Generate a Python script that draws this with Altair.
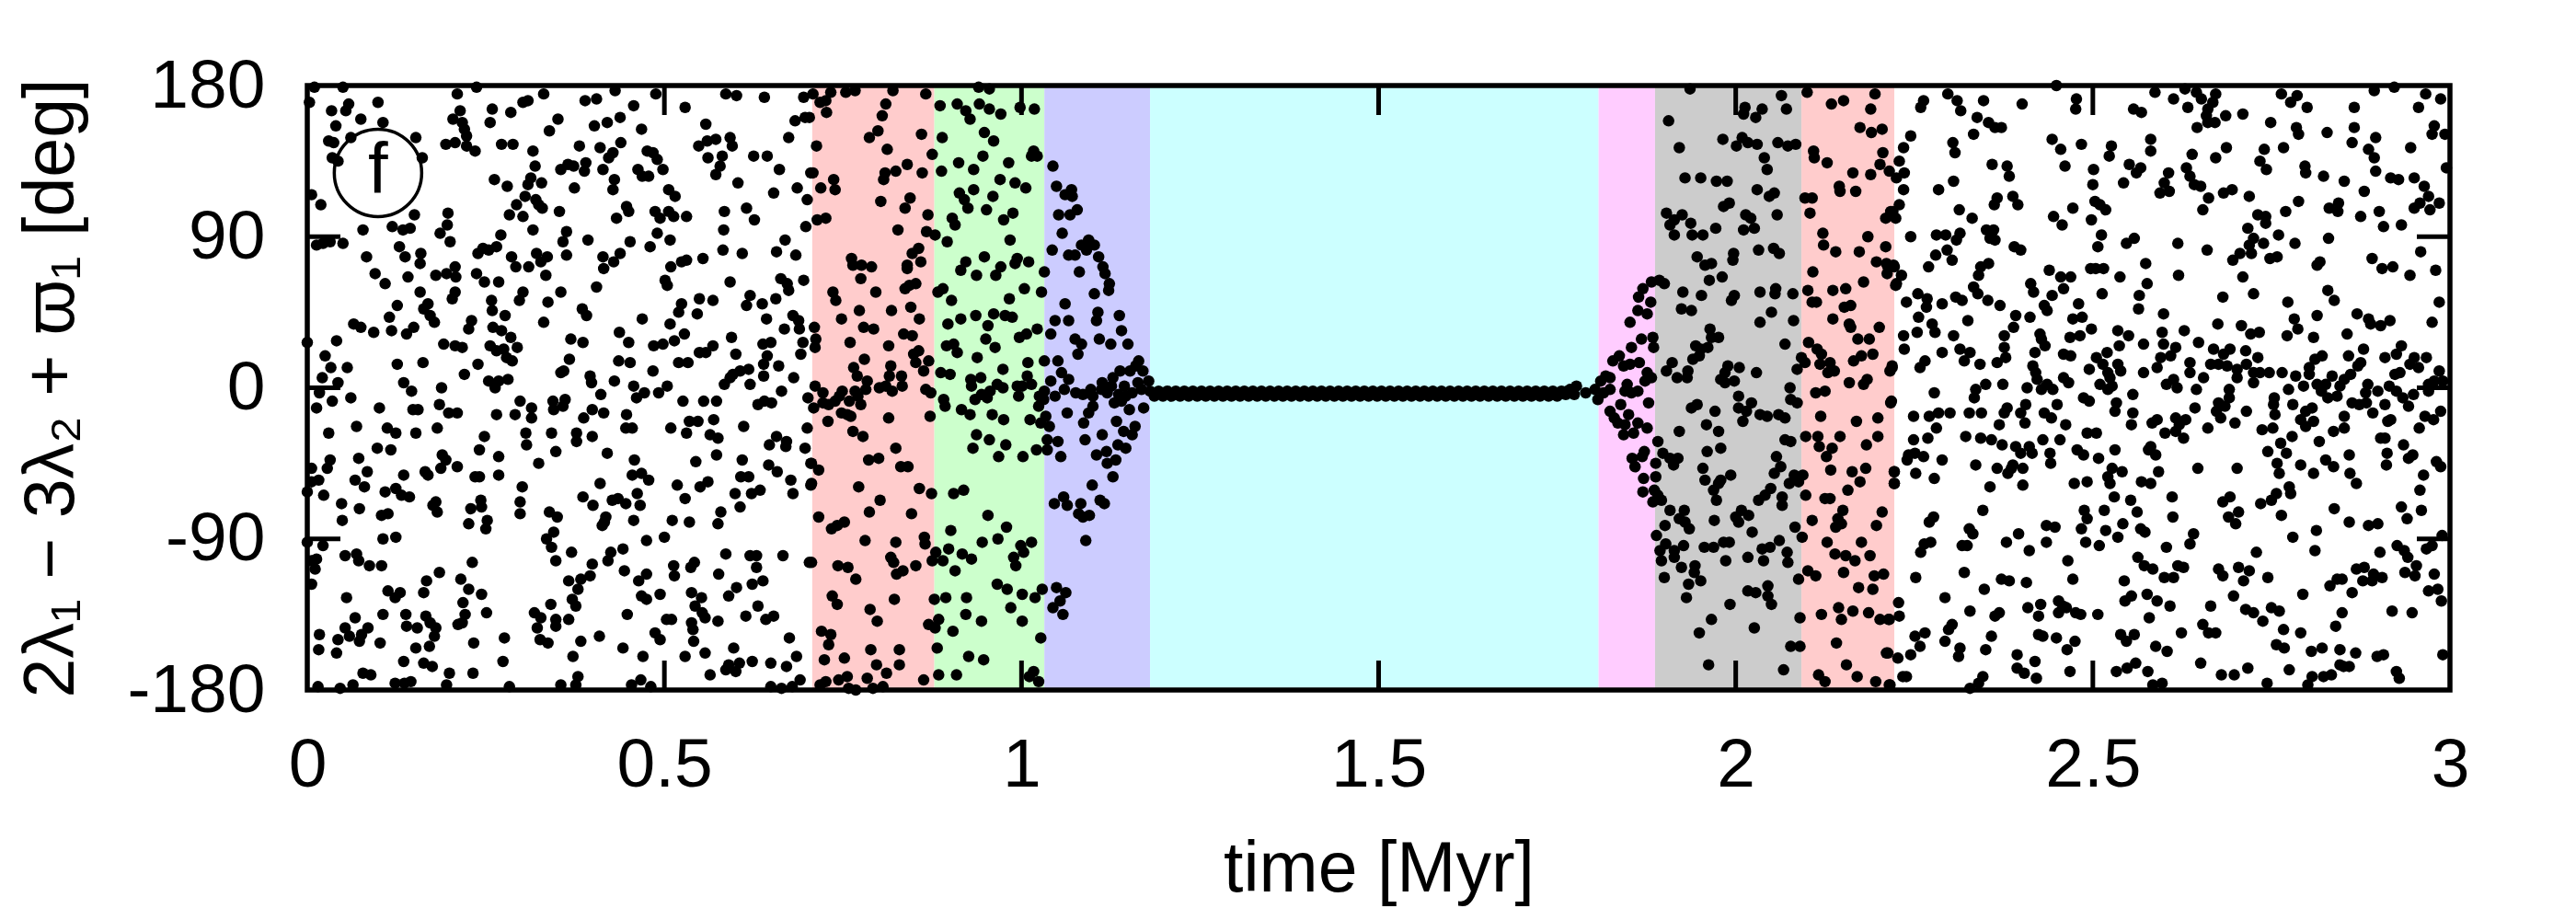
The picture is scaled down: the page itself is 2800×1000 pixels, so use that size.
import altair as alt
import pandas as pd

# (time in kyr, angle in deg), by shaded zone
Z_WHITE_A = [(10,179),(50,179),(210,175),(237,179),(331,175),(431,177),(488,175),(586,175),(601,174),(640,173),(695,173),(309,171),(302,170),(405,172),(389,171),(99,170),(457,168),(529,167),(3,170),
(58,169),(54,165),(34,165),(214,165),(259,166),(285,164),(75,160),(204,160),(256,158),(438,161),(420,158),(402,156),(351,160),(339,153),(468,154),(558,157),(683,159),(697,161),
(40,156),(106,158),(217,158),(220,154),(223,150),(61,149),(30,147),(37,146),(152,149),(674,149),(592,149),(572,148),(560,147),(548,144),(595,144),
(194,145),(207,146),(223,144),(235,141),(272,145),(288,145),(381,144),(410,143),(439,146),(476,141),(316,141),
(35,137),(43,135),(161,137),(428,140),(422,137),(484,140),(490,136),(561,137),(581,138),(578,132),(625,138),(644,138),
(319,132),(365,133),(355,130),(373,132),(390,134),(388,129),(414,130),(463,130),(498,130),(469,126),(478,126),(572,127),(661,130),(705,128),
(262,124),(280,120),(313,125),(309,121),(328,122),(374,119),(430,124),(428,118),(506,118),(603,122),(686,119),(653,116),
(6,115),(305,114),(515,114),(700,112),(19,109),(320,112),(324,109),(329,107),(293,109),(283,103),(302,102),(353,105),(447,108),(450,105),(433,101),(487,105),(494,101),(506,105),(513,102),(531,102),(584,105),(615,107),(626,100),(150,103),(197,104),(698,96),
(196,97),(78,94),(119,96),(134,94),(144,95),(186,92),(316,94),(271,91),(363,93),(583,94),(490,92),
(358,87),(393,88),(508,88),(452,87),(480,84),(669,88),(13,85),(22,86),(32,87),(50,86),(200,87),(129,84),(265,84),(246,83),(239,80),(254,82),(582,82),
(83,78),(137,78),(159,80),(158,74),(286,78),(321,80),(336,78),(327,75),(363,79),(414,78),(438,80),(554,77),(609,80),(657,81),(684,79),
(429,75),(415,71),(292,72),(310,72),(207,72),(95,68),(180,67),(195,68),(208,66),(237,68),(334,67),(509,72),(524,75),(531,76),(141,66),
(248,63),(268,63),(501,64),(504,61),(592,63),(663,65),(672,62),(695,64),(405,60),(109,62),(674,58),
(158,57),(207,57),(203,53),(302,57),(297,52),(355,57),(337,51),(258,52),(259,46),(620,55),(615,49),(568,52),(549,53),(637,50),(656,53),(524,50),(520,45),(546,44),(126,49),(169,50),(163,47),(385,47),(391,43),
(277,43),(115,42),(172,43),(178,39),(331,39),(469,41),(508,38),(643,41),(680,43),(688,40),(230,40),(226,35),
(65,38),(75,36),(93,33),(118,34),(139,32),(149,36),(260,36),(272,34),(285,30),(437,33),(450,27),(528,32),(514,28),(668,35),(689,35),
(0,27),(41,28),(191,26),(207,25),(217,24),(256,25),(265,22),(294,24),(369,29),(386,27),(498,26),(485,25),(594,30),(638,26),(649,27),(694,27),
(275,23),(279,18),(287,16),(549,21),(568,25),(558,21),(600,20),(644,19),(691,20),
(25,19),(367,17),(436,16),(452,15),(520,15),(533,15),(126,14),(162,15),(239,14),(33,12),(56,12),(639,14),(660,13),(484,10),(359,10),(355,9),
(220,8),(618,11),(606,10),(596,8),(592,6),(584,2),(620,2),(639,7),(681,6),(396,7),(398,3),(254,4),(268,4),(281,5),(263,0),(430,4),(21,6),(43,3),(135,3),(146,-2),(188,0),(504,1),(457,1),(664,-2),
(411,-4),(472,-3),(492,-3),(461,-6),(701,-6),(17,-3),(35,-8),(61,-6),(13,-12),(526,-8),(555,-8),(573,-8),(640,-8),(631,-10),(650,-9),(298,-8),(344,-8),(361,-7),(314,-12),(345,-13),(358,-11),(101,-12),(148,-13),(155,-13),(185,-10),(198,-15),(210,-15),
(399,-13),(415,-15),(447,-16),(387,-18),(265,-16),(291,-16),(314,-18),(569,-19),(535,-20),(547,-20),
(69,-23),(112,-24),(124,-27),(152,-27),(182,-24),(30,-27),(446,-24),(455,-24),(509,-24),(531,-27),(611,-23),(700,-24),
(306,-27),(342,-27),(377,-27),(399,-29),(377,-32),(248,-29),(307,-34),(564,-28),(575,-30),(657,-29),(647,-34),(671,-32),(670,-35),
(98,-36),(117,-37),(241,-37),(697,-36),(348,-38),(420,-39),
(268,-41),(189,-40),(194,-43),(72,-42),(32,-43),(573,-40),(458,-43),(609,-43),(544,-44),
(324,-45),(646,-46),(210,-47),(187,-48),(28,-48),(6,-48),(705,-45),(658,-50),
(84,-50),(165,-50),(169,-52),(135,-52),(468,-51),(455,-52),(268,-52),(235,-53),(241,-53),
(16,-55),(6,-56),(67,-55),(478,-55),(607,-53),(618,-53),(677,-55),(705,-58),
(518,-58),(80,-59),(301,-59),(410,-57),(561,-56),(550,-59),
(0,-62),(23,-64),(109,-62),(124,-60),(132,-64),(143,-65),(462,-63),(599,-63),(622,-63),(634,-61),(680,-63),(529,-66),
(386,-65),(427,-67),(435,-66),(446,-69),(400,-70),(243,-67),(244,-71),(48,-69),(180,-68),(176,-70),(298,-68),(466,-70),(606,-71),
(73,-72),(229,-72),(182,-74),(113,-75),(104,-76),(298,-75),(339,-74),(350,-77),(579,-74),(575,-81),(418,-77),
(49,-79),(457,-79),(511,-79),(535,-80),(416,-80),(413,-82),(252,-79),(250,-84),(226,-81),
(345,-86),(335,-90),(500,-89),(106,-90),(124,-89),(475,-91),(0,-92),(22,-94),(342,-95),
(370,-98),(442,-96),(425,-98),(53,-100),(69,-99),(72,-103),(586,-99),(620,-100),(629,-100),(666,-100),(13,-102),(6,-103),
(231,-104),(348,-103),(421,-103),(542,-104),(703,-104),(87,-106),(104,-106),(11,-108),(513,-106),(537,-107),(629,-107),
(185,-110),(399,-105),(396,-112),(444,-109),(475,-111),(514,-112),(576,-111),
(167,-115),(215,-114),(366,-115),(383,-114),(464,-115),(6,-117),(638,-115),(623,-117),
(226,-120),(379,-120),(601,-119),(113,-121),(130,-122),(163,-122),(244,-123),(538,-122),(494,-123),(590,-124),(468,-124),(55,-125),(123,-125),(475,-126),
(218,-128),(371,-126),(376,-130),(552,-125),(543,-130),(341,-129),(631,-130),(251,-134),(553,-134),
(221,-135),(67,-137),(106,-135),(138,-135),(166,-136),(318,-134),(327,-137),(448,-135),(614,-136),(653,-136),(348,-138),(366,-138),(503,-138),(510,-138),(557,-137),(575,-139),(642,-138),(217,-140),(211,-141),(538,-140),
(139,-142),(154,-143),(172,-140),(180,-143),(53,-143),(322,-143),(348,-142),(540,-144),(85,-143),
(17,-147),(59,-148),(76,-147),(178,-148),(43,-150),(73,-151),(276,-149),(409,-148),(487,-146),(494,-150),(675,-149),(326,-150),
(102,-152),(233,-152),(337,-152),(383,-151),(541,-151),(152,-155),(171,-154),(442,-155),(597,-155),(16,-156),
(41,-158),(372,-160),(470,-160),(529,-160),(557,-158),(685,-160),
(135,-163),(163,-164),(175,-166),(274,-163),(590,-165),(605,-164),(623,-163),(649,-164),(671,-166),(586,-168),(564,-171),(600,-169),
(78,-170),(89,-171),(199,-170),(232,-170),(379,-172),(467,-174),
(15,-178),(46,-179),(64,-177),(123,-176),(136,-176),(145,-175),(195,-177),(283,-178),(355,-177),(376,-177),(454,-177),(481,-178),(649,-178),(664,-179),(679,-178),(690,-174)]

Z_PINK_A = [(708,175),(733,176),(754,176),(767,177),(820,177),(866,175),(718,170),(726,171),(810,169),(727,164),(805,162),(703,161),(799,153),(787,149),(860,151),(713,144),(812,142),(875,139),(840,133),(824,129),(809,128),(807,124),(861,128),(708,128),(737,124),(719,119),(739,118),(844,113),(803,111),(837,107),(869,103),(726,101),(714,100),(827,94),(867,93),(879,91),
(856,83),(847,80),(859,75),(762,77),(764,73),(776,73),(790,72),(840,73),(840,71),(775,65),(852,62),(843,61),(837,59),(736,57),(796,57),(740,52),(818,46),(845,48),(773,46),(748,41),(857,41),(779,36),(793,35),(710,36),(712,29),(711,24),(835,32),(847,31),(760,27),(814,25),
(856,22),(849,20),(852,15),(870,16),(780,17),(863,10),(765,12),(817,13),(815,7),(770,7),(832,7),(784,4),(833,1),(801,0),(810,1),(711,1),(782,-1),(819,-2),(767,-2),(866,-1),(873,-3),(722,-3),(749,-2),(745,-5),(771,-5),(759,-8),(722,-9),(730,-10),(739,-8),(775,-10),(709,-12),(748,-15),(756,-16),(761,-17),(814,-18),(872,-17),(729,-20),(764,-26),(778,-29),(824,-36),(800,-42),(786,-43),(706,-45),(716,-49),(831,-47),(841,-47),(706,-57),(772,-59),(857,-60),(874,-63),(802,-67),(787,-74),(846,-75),(716,-77),(752,-80),(742,-82),(734,-84),(781,-91),(824,-92),(864,-89),(865,-93),(817,-101),(821,-104),(706,-104),(743,-106),(757,-107),(852,-106),(834,-109),(825,-111),(768,-114),(875,-103),(735,-124),(742,-129),(822,-126),(788,-132),(798,-139),(870,-141),(720,-145),(733,-147),(730,-153),(789,-156),(829,-156),(752,-161),(724,-162),(829,-165),(797,-165),(811,-170),(756,-172),(744,-174),(784,-173),(863,-174),(726,-175),(718,-177),(758,-179),(768,-180),(792,-179),(806,-178)]

Z_GREEN = [(940,179),(955,178),(886,168),(910,169),(922,165),(928,160),(941,169),(955,166),(971,163),(998,167),(1018,166),(948,152),(961,147),(889,149),(1017,141),(1014,138),(1022,138),(946,138),(982,134),(912,134),(933,130),(888,129),(970,124),(991,122),(1006,119),(933,118),(913,116),(920,112),(960,114),(925,107),(951,106),(988,104),(975,100),(903,101),(907,97),(896,87),(984,88),(948,78),(994,77),(991,74),(1010,75),(922,75),(915,70),(937,67),(971,72),(964,67),(1032,69),(890,59),(883,57),(1004,59),(1028,57),(983,53),(902,52),(961,44),(936,43),(977,43),(987,42),(915,41),(897,38),(953,37),(1022,35),(1007,32),(997,30),(950,29),(905,26),(895,25),(963,24),(910,21),(938,18),(1009,15),(1032,16),(974,11),(887,9),(900,8),(1008,7),(943,6),(929,5),(966,2),(1014,2),(930,1),(974,0),(994,1),(1001,1),(956,-2),(944,-4),(935,-7),(952,-6),(996,-5),(891,-7),(893,-11),(1024,-11),(916,-13),(928,-16),(959,-16),(975,-19),(1012,-19),(1027,-21),(937,-28),(955,-31),(978,-34),(932,-36),(1021,-37),(968,-41),(1002,-41),(919,-61),(905,-63),(953,-76),(979,-83),(901,-85),(967,-90),(945,-92),(1014,-92),(999,-94),(1003,-98),(898,-96),(917,-99),(880,-98),(930,-102),(989,-101),(890,-103),(992,-106),(907,-109),(966,-117),(980,-120),(1029,-120),(1001,-123),(1019,-125),(878,-126),(894,-125),(923,-125),(985,-131),(922,-135),(884,-138),(944,-139),(1001,-139),(879,-143),(904,-145),(1027,-149),(882,-155),(926,-160),(947,-162),(884,-171),(909,-171),(1017,-169),(1011,-172),(1024,-175)]

Z_BLUE = [(1044,132),(1049,120),(1070,118),(1061,115),(1071,114),(1078,106),(1068,103),(1052,103),(1057,92),(1043,82),(1094,88),(1084,85),(1102,85),(1091,82),(1066,79),(1075,79),(1108,78),(1114,72),(1117,68),(1081,69),(1123,62),(1122,58),(1102,56),(1061,50),(1107,45),(1137,43),(1105,40),(1047,40),(1066,40),(1140,34),(1041,32),(1075,29),(1084,26),(1109,29),(1125,26),(1149,26),(1079,20),(1164,16),(1160,13),(1051,16),(1138,10),(1152,10),(1170,10),(1056,9),(1128,6),(1066,5),(1041,4),(1113,3),(1178,4),(1144,1),(1163,3),(1097,-1),(1112,-1),(1126,1),(1060,-1),(1076,-3),(1086,-4),(1032,-2),(1047,-5),(1025,-5),(1031,-7),(1100,-5),(1120,-3),(1136,-4),(1146,-5),(1155,-3),(1168,-1),(1130,-9),(1140,-8),(1100,-11),(1094,-15),(1064,-15),(1151,-13),(1171,-12),(1034,-17),(1087,-21),(1133,-20),(1039,-23),(1143,-26),(1159,-23),(1155,-28),(1113,-28),(1089,-31),(1036,-31),(1051,-32),(1036,-37),(1135,-34),(1146,-36),(1119,-38),(1105,-40),(1132,-43),(1055,-41),(1120,-45),(1128,-53),(1099,-58),(1059,-65),(1110,-67),(1116,-69),(1046,-69),(1064,-70),(1083,-69),(1080,-75),(1086,-77),(1095,-76),(1090,-91),(1049,-119),(1062,-122),(1054,-127),(1044,-131),(1058,-135)]

Z_CYAN = [(1180,-2),(1186,-5),(1192,-2),(1198,-5),(1204,-2),(1210,-5),(1216,-2),(1222,-5),(1228,-2),(1234,-5),(1240,-2),(1246,-5),(1252,-2),(1258,-5),(1264,-2),(1270,-5),(1276,-2),(1282,-5),(1288,-2),(1294,-5),(1300,-2),(1306,-5),(1312,-2),(1318,-5),(1324,-2),(1330,-5),(1336,-2),(1342,-5),(1348,-2),(1354,-5),(1360,-2),(1366,-5),(1372,-2),(1378,-5),(1384,-2),(1390,-5),(1396,-2),(1402,-5),(1408,-2),(1414,-5),(1420,-2),(1426,-5),(1432,-2),(1438,-5),(1444,-2),(1450,-5),(1456,-2),(1462,-5),(1468,-2),(1474,-5),(1480,-2),(1486,-5),(1492,-2),(1498,-5),(1504,-2),(1510,-5),(1516,-2),(1522,-5),(1528,-2),(1534,-5),(1540,-2),(1546,-5),(1552,-2),(1558,-5),(1564,-2),(1570,-5),(1576,-2),(1582,-5),(1588,-2),(1594,-5),(1600,-2),(1606,-5),(1612,-2),(1618,-5),(1624,-2),(1630,-5),(1636,-2),(1642,-5),(1648,-2),(1654,-5),(1660,-2),(1666,-5),(1672,-2),(1678,-5),(1684,-2),(1690,-5),(1696,-2),(1702,-5),(1708,-2),(1714,-5),(1720,-2),(1726,-5),(1732,-2),(1738,-5),(1744,-2),(1750,-5),(1756,-2),(1762,-4),(1768,-1),(1774,-4)]

Z_MAGENTA = [(1764,-2),(1777,1),(1790,-3),(1803,-1),(1811,4),(1818,7),(1824,6),(1815,-3),(1807,-7),(1824,-1),(1828,16),(1837,19),(1843,13),(1852,14),(1865,15),(1854,24),(1868,29),(1884,30),(1885,24),(1852,39),(1876,44),(1863,46),(1881,51),(1864,54),(1870,59),(1882,63),(1893,64),(1900,62),(1876,9),(1873,4),(1882,6),(1848,2),(1845,-2),(1854,-3),(1863,-2),(1878,-9),(1839,-10),(1824,-14),(1830,-18),(1850,-16),(1835,-21),(1845,-22),(1863,-21),(1876,-24),(1843,-28),(1857,-27),(1872,-38),(1869,-41),(1855,-42),(1859,-47),(1888,-45),(1888,-53),(1871,-54),(1870,-62),(1886,-61),(1891,-64),(1884,-68),(1896,-67)]

Z_GRAY = [(1936,178),(2013,167),(2011,163),(2037,166),(2028,161),(2064,174),(2071,166),(1906,159),(1921,143),(1982,148),(2009,149),(2017,146),(2001,144),(2030,145),(2059,146),(2073,144),(2084,145),(2040,137),(2044,130),(1929,125),(1951,125),(1973,123),(1988,123),(2030,118),(2047,114),(2054,116),(1983,108),(1991,110),(1903,104),(1925,103),(1914,100),(1908,97),(1937,98),(2014,103),(2021,101),(2058,103),(1972,95),(2011,94),(2026,95),(1914,91),(1939,91),(1954,91),(2032,82),(2053,83),(2061,80),(1946,78),(1997,80),(1996,76),(1966,74),(1957,73),(1963,64),(1981,66),(1926,57),(1952,55),(1998,55),(1994,52),(2034,57),(2056,59),(2055,56),(2080,56),(1924,47),(1938,46),(2050,45),(2034,39),(2081,40),(1964,35),(1966,30),(1976,30),(1944,25),(1961,24),(1951,23),(2069,26),(1940,17),(1949,19),(1911,15),(1903,10),(1918,6),(1933,10),(1932,6),(1989,13),(2005,12),(2029,9),(1985,9),(1979,5),(1998,4),(1985,3),(2076,0),(2004,-5),(2022,-9),(2077,-7),(2086,-9),(1946,-10),(1938,-12),(1971,-14),(2004,-12),(2015,-14),(2034,-16),(2044,-17),(2060,-16),(2069,-18),(2010,-20),(1959,-22),(1976,-26),(1921,-26),(2069,-31),(2077,-32),(1891,-32),(1898,-39),(1908,-42),(1919,-42),(1913,-46),(1960,-38),(1979,-36),(2057,-41),(2063,-47),(1954,-48),(2054,-51),(1993,-52),(2082,-52),(2094,-52),(1957,-55),(1979,-55),(1976,-57),(2088,-56),(2075,-57),(1969,-61),(2049,-60),(2041,-64),(2032,-67),(2065,-65),(2065,-70),(1973,-67),(1908,-73),(1928,-73),(2008,-73),(2018,-76),(2000,-77),(2004,-80),(1921,-78),(1970,-79),(1929,-80),(1935,-84),(1901,-82),(2023,-86),(2083,-83),(2093,-89),(1889,-88),(2061,-91),(1902,-93),(1927,-94),(1894,-97),(1914,-97),(1914,-101),(1956,-95),(1969,-95),(1983,-92),(1991,-92),(2037,-96),(2048,-95),(2072,-98),(1896,-103),(2017,-101),(1986,-103),(2039,-103),(2073,-104),(1924,-107),(1943,-106),(1942,-110),(1900,-113),(1951,-115),(1934,-117),(1931,-125),(2017,-121),(2028,-122),(2045,-118),(2045,-124),(2050,-129),(1992,-129),(1966,-138),(2026,-143),(1949,-146),(2077,-154),(2090,-154),(1962,-165),(2067,-168),(2090,-137)]

Z_PINK_B = [(2100,176),(2134,169),(2151,171),(2195,175),(2189,166),(2174,155),(2190,152),(2205,154),(2109,141),(2110,137),(2128,134),(2206,140),(2202,133),(2164,128),(2189,127),(2215,129),(2145,120),(2146,117),(2168,117),(2097,113),(2107,113),(2104,104),(2210,101),(2220,105),(2122,92),(2185,90),(2123,85),(2140,81),(2173,81),(2210,84),(2197,75),(2211,74),(2221,73),(2108,69),(2212,68),(2179,63),(2224,61),(2101,58),(2136,58),(2154,59),(2107,51),(2113,51),(2152,48),(2161,49),(2136,41),(2159,38),(2161,36),(2201,36),(2171,29),(2187,29),(2102,27),(2114,23),(2120,20),(2192,20),(2176,19),(2165,16),(2092,18),(2097,15),(2118,14),(2132,15),(2138,10),(2129,9),(2086,11),(2219,13),(2216,10),(2159,3),(2184,5),(2179,2),(2125,-2),(2112,-3),(2218,-8),(2119,-17),(2169,-20),(2199,-18),(2098,-29),(2115,-29),(2146,-29),(2199,-29),(2117,-35),(2135,-36),(2183,-34),(2127,-41),(2133,-49),(2163,-50),(2182,-48),(2222,-50),(2222,-57),(2174,-56),(2157,-61),(2098,-64),(2125,-66),(2132,-66),(2150,-73),(2205,-74),(2107,-79),(2143,-78),(2197,-82),(2148,-81),(2140,-83),(2128,-92),(2176,-92),(2139,-99),(2154,-100),(2167,-103),(2188,-100),(2151,-110),(2101,-109),(2112,-112),(2088,-114),(2194,-112),(2207,-111),(2172,-119),(2192,-120),(2144,-131),(2164,-133),(2186,-134),(2120,-135),(2148,-138),(2202,-138),(2214,-138),(2141,-152),(2211,-158),(2155,-165),(2170,-172),(2116,-171),(2125,-175),(2196,-175),(2215,-177)]

Z_WHITE_B = [(2263,171),(2259,167),(2297,175),(2310,171),(2315,165),(2347,171),(2401,169),(2449,180),(2477,172),(2476,166),(2338,161),(2354,158),(2363,155),(2372,155),(2333,151),(2245,150),(2235,143),(2304,146),(2307,140),(2443,148),(2455,142),(2484,145),(2229,135),(2359,133),(2380,132),(2383,126),(2461,132),(2501,130),(2500,121),(2236,128),(2225,125),(2305,123),(2284,118),(2235,118),(2388,114),(2395,109),(2366,113),(2362,109),(2229,109),(2217,105),(2313,106),(2331,101),(2224,101),(2445,102),(2457,97),(2472,107),(2503,111),(2510,109),(2518,106),(2498,100),(2351,94),(2361,94),(2245,90),(2281,91),(2294,91),(2314,92),(2309,88),(2356,89),(2363,88),(2512,91),(2507,84),(2558,89),(2547,86),(2390,84),(2399,82),(2296,82),(2280,79),(2303,76),(2213,72),(2222,72),(2270,72),(2343,72),(2354,74),(2340,67),(2574,74),(2497,71),(2504,71),(2515,71),(2439,70),(2455,66),(2469,66),(2538,66),(2232,67),(2620,67),(2225,62),(2333,60),(2339,56),(2413,62),(2417,57),(2459,59),(2576,62),(2565,55),(2513,56),(2255,56),(2308,54),(2317,52),(2353,52),(2443,55),(2432,49),(2436,46),(2239,51),(2289,50),(2268,53),(2267,48),(2370,49),(2480,50),(2564,47),(2392,43),(2412,42),(2256,42),(2325,40),(2472,41),(2485,42),(2599,44),(2389,36),(2275,38),(2498,35),(2254,33),(2279,33),(2235,31),(2305,31),(2376,31),(2426,32),(2468,30),(2482,31),(2535,34),(2550,31),(2597,33),(2628,34),(2428,29),(2433,25),(2236,23),(2289,21),(2314,23),(2328,21),(2376,24),(2378,18),(2419,21),(2459,20),(2469,19),(2520,21),(2537,25),(2571,26),(2599,26),(2616,24),(2648,27),(2320,16),(2342,14),(2366,15),(2505,18),(2514,14),(2535,14),(2595,18),(2609,19),(2590,12),(2636,15),(2219,12),(2265,16),(2258,12),(2416,13),(2495,11),(2539,10),(2571,9),(2521,9),(2420,9),(2459,6),(2466,3),(2636,9),(2350,2),(2374,2),(2422,5),(2436,2),(2524,6),(2510,2),(2527,1),(2521,-1),(2603,2),(2613,5),(2618,0),(2655,6),(2408,0),(2428,-1),(2444,-1),(2336,-1),(2645,-1),(2278,-3),(2334,-6),(2556,-4),(2217,-9),(2487,-6),(2495,-8),(2533,-9),(2406,-10),(2450,-10),(2380,-12),(2376,-15),(2531,-14),(2643,-12),(2399,-15),(2432,-15),(2249,-17),(2271,-17),(2284,-15),(2300,-15),(2327,-15),(2344,-15),(2556,-15),(2442,-18),(2590,-19),(2281,-24),(2369,-22),(2405,-21),(2462,-22),(2554,-22),(2583,-21),(2616,-18),(2630,-19),(2621,-22),(2601,-27),(2616,-26),(2492,-27),(2505,-27),(2627,-30),(2249,-31),(2269,-30),(2322,-29),(2343,-30),(2358,-31),(2430,-31),(2454,-31),(2373,-34),(2392,-35),(2411,-35),(2581,-35),(2578,-37),(2399,-39),(2415,-39),(2440,-39),(2478,-37),(2487,-40),(2531,-37),(2588,-40),(2242,-40),(2251,-39),(2263,-41),(2240,-43),(2289,-43),(2441,-45),(2508,-42),(2336,-46),(2388,-46),(2381,-51),(2366,-48),(2402,-48),(2527,-48),(2541,-50),(2592,-50),(2647,-48),(2702,-48),(2222,-50),(2252,-51),(2278,-54),(2386,-48),(2521,-53),(2222,-57),(2356,-59),(2402,-58),(2474,-57),(2492,-56),(2524,-57),(2568,-56),(2581,-57),(2530,-65),(2611,-65),(2553,-67),(2346,-73),(2516,-73),(2562,-74),(2488,-73),(2492,-78),(2277,-77),(2271,-80),(2612,-77),(2542,-81),(2435,-82),(2447,-83),(2484,-84),(2567,-84),(2573,-86),(2327,-84),(2332,-87),(2396,-87),(2518,-85),(2535,-89),(2641,-87),(2379,-92),(2435,-92),(2490,-92),(2509,-94),(2636,-93),(2273,-92),(2264,-93),(2259,-98),(2317,-94),(2324,-94),(2411,-97),(2603,-95),(2563,-101),(2465,-103),(2572,-106),(2584,-108),(2619,-106),(2627,-107),(2320,-110),(2600,-113),(2613,-113),(2252,-113),(2372,-114),(2383,-115),(2407,-116),(2472,-114),(2544,-115),(2348,-120),(2576,-123),(2293,-125),(2554,-124),(2545,-127),(2590,-127),(2228,-128),(2452,-127),(2458,-130),(2427,-129),(2608,-130),(2409,-131),(2463,-131),(2328,-133),(2369,-134),(2363,-136),(2229,-136),(2215,-138),(2424,-136),(2452,-134),(2476,-134),(2483,-135),(2507,-135),(2579,-137),(2303,-141),(2298,-144),(2265,-146),(2251,-148),(2358,-148),(2424,-147),(2430,-148),(2449,-149),(2539,-147),(2558,-147),(2547,-151),(2624,-146),(2293,-151),(2475,-151),(2588,-154),(2258,-154),(2464,-156),(2350,-156),(2314,-155),(2312,-160),(2245,-159),(2227,-161),(2213,-158),(2394,-159),(2604,-157),(2419,-163),(2560,-164),(2394,-167),(2404,-170),(2468,-169),(2421,-173),(2533,-169),(2548,-167),(2577,-169),(2651,-164),(2346,-172),(2340,-176),(2328,-179),(2234,-172),(2239,-172),(2216,-177),(2584,-177),(2597,-176)]

Z_WHITE_C = [(2587,176),(2613,172),(2629,178),(2645,176),(2652,172),(2633,167),(2672,175),(2668,170),(2661,166),(2659,162),(2671,158),(2661,158),(2646,155),(2686,162),(2710,163),(2749,158),(2557,166),(2568,164),(2764,175),(2786,174),(2777,170),(2800,167),(2894,177),(2922,179),(2966,175),(2987,172),(2956,167),(2866,167),(2785,155),(2788,151),(2828,152),(2866,155),(2863,146),(2896,149),(2978,156),(2975,151),(2993,151),(2945,143),(2886,142),(2894,137),(2896,129),(2995,131),(2767,143),(2740,142),(2734,135),(2743,130),(2797,132),(2798,128),(2823,126),(2852,123),(2917,125),(2928,124),(2950,125),(2880,117),(2964,120),(2970,114),(2639,139),(2672,137),(2687,143),(2581,148),(2581,141),(2526,144),(2523,138),(2551,133),(2567,131),(2561,128),(2543,122),(2606,128),(2631,131),(2636,126),(2642,121),(2651,120),(2600,122),(2594,116),(2607,117),(2695,118),(2683,116),(2719,114),(2662,113),(2654,106),(2731,103),(2742,102),(2742,98),(2770,105),(2788,111),(2831,107),(2844,110),(2843,105),(2875,102),(2901,105),(2907,96),(2932,97),(2950,107),(2958,110),(2972,106),(2985,110),(2717,95),(2760,91),(2783,86),(2830,89),(2619,86),(2660,82),(2725,89),(2719,85),(2722,80),(2739,86),(2706,80),(2696,76),(2748,77),(2758,78),(2818,75),(2814,73),(2891,77),(2905,71),(2920,72),(2959,81),(2944,67),(2980,70),(2710,66),(2682,54),(2725,56),(2829,58),(2838,52),(2985,51),(2773,51),(2870,44),(2782,41),(2814,43),(2886,41),(2889,38),(2903,37),(2916,40),(2975,39),(2675,38),(2708,37),(2721,32),(2733,33),(2787,35),(2772,31),(2809,30),(2856,32),(2879,23),(2932,25),(2669,23),(2714,22),(2683,20),(2692,23),(2731,18),(2821,19),(2811,17),(2858,19),(2875,15),(2871,13),(2909,18),(2925,20),(2967,18),(2950,18),(2944,14),(2956,12),(2665,14),(2676,14),(2688,13),(2702,11),(2702,6),(2715,14),(2725,9),(2725,3),(2734,9),(2747,9),(2765,9),(2784,7),(2803,12),(2803,8),(2795,1),(2774,-1),(2814,2),(2826,2),(2835,7),(2820,-2),(2829,-6),(2842,-5),(2846,1),(2852,5),(2861,8),(2885,2),(2882,-3),(2899,-2),(2915,1),(2923,8),(2930,9),(2925,-2),(2934,-6),(2949,-4),(2970,-2),(2970,2),(2978,4),(2985,10),(2990,4),(2863,-9),(2873,-10),(2883,-9),(2892,-15),(2909,-10),(2942,-11),(2987,-14),(2965,-17),(2977,-19),(2754,-6),(2753,-10),(2780,-10),(2755,-16),(2791,-19),(2798,-14),(2807,-12),(2798,-23),(2809,-20),(2691,-1),(2676,-9),(2691,-6),(2685,-11),(2673,-14),(2679,-18),(2715,-14),(2699,-21),(2661,-24),(2737,-25),(2752,-24),(2852,-17),(2852,-24),(2837,-26),(2779,-29),(2817,-32),(2917,-19),(2913,-20),(2957,-24),(2909,-30),(2903,-30),(2935,-34),(2763,-33),(2745,-38),(2771,-39),(2758,-45),(2859,-40),(2826,-43),(2791,-46),(2837,-47),(2912,-39),(2911,-46),(2948,-40),(2942,-42),(2981,-44),(2987,-47),(2761,-51),(2809,-51),(2860,-51),(2869,-57),(2963,-52),(2958,-61),(2775,-59),(2777,-63),(2757,-63),(2750,-67),(2735,-69),(2692,-65),(2682,-68),(2764,-76),(2704,-74),(2690,-77),(2700,-81),(2838,-72),(2932,-71),(2960,-73),(2940,-78),(2859,-80),(2886,-82),(2899,-81),(2813,-85),(2780,-89),(2989,-88),(2975,-94),(2967,-96),(2811,-97),(2926,-94),(2936,-97),(2941,-101),(2729,-98),(2902,-98),(2676,-108),(2682,-112),(2704,-107),(2719,-109),(2711,-115),(2745,-113),(2869,-108),(2880,-107),(2893,-111),(2905,-113),(2878,-115),(2891,-115),(2953,-106),(2937,-110),(2951,-112),(2978,-111),(2832,-118),(2842,-114),(2849,-114),(2863,-122),(2794,-123),(2983,-120),(2970,-121),(2988,-127),(2697,-124),(2665,-130),(2714,-132),(2725,-134),(2750,-131),(2761,-133),(2738,-139),(2654,-141),(2662,-146),(2672,-146),(2767,-144),(2791,-146),(2840,-142),(2849,-134),(2919,-133),(2947,-134),(2757,-153),(2768,-155),(2806,-157),(2821,-155),(2846,-156),(2868,-158),(2898,-160),(2907,-159),(2990,-159),(2851,-166),(2846,-165),(2717,-167),(2775,-168),(2680,-171),(2698,-171),(2807,-172),(2823,-172),(2834,-171),(2859,-166),(2925,-169),(2929,-173),(2744,-176),(2801,-177)]

BAND_STARTS = [0.707, 0.878, 1.032, 1.180, 1.808, 1.887, 2.092]
BAND_ENDS = [0.878, 1.032, 1.180, 1.808, 1.887, 2.092, 2.222]
BAND_COLORS = ["#ffcccc", "#ccffcc", "#ccccff", "#ccffff", "#ffccff", "#cccccc", "#ffcccc"]
X_TICKS = [0, 0.5, 1, 1.5, 2, 2.5, 3]
Y_TICKS = [-180, -90, 0, 90, 180]
X_INNER = [0.5, 1, 1.5, 2, 2.5]
Y_INNER = [-90, 0, 90]
FONT = "Liberation Sans"
W, H = 2329, 657

all_points = Z_WHITE_A + Z_PINK_A + Z_GREEN + Z_BLUE + Z_CYAN + Z_MAGENTA + Z_GRAY + Z_PINK_B + Z_WHITE_B + Z_WHITE_C
points = pd.DataFrame({"t": [p[0] / 1000 for p in all_points], "d": [p[1] for p in all_points]})
bands = pd.DataFrame({"a": BAND_STARTS, "b": BAND_ENDS, "c": BAND_COLORS})

xs = alt.Scale(domain=[0, 3], nice=False, zero=False)
ys = alt.Scale(domain=[-180, 180], nice=False, zero=False)
XAX = alt.Axis(
    values=X_TICKS, format="~g", grid=False, ticks=False, domain=False, labelFont=FONT,
    labelFontSize=75, labelColor="black", labelPadding=45, labelFlush=False, labelOverlap=False,
    title="time [Myr]", titleFont=FONT, titleFontSize=77, titleFontWeight="normal",
    titleColor="black", titlePadding=38)
YAX = alt.Axis(
    values=Y_TICKS, labelExpr="toString(datum.value)", grid=False, ticks=False, domain=False, labelFont=FONT,
    labelFontSize=75, labelColor="black", labelPadding=46, labelFlush=False, labelOverlap=False,
    title="2λ₁ − 3λ₂ + ϖ₁ [deg]", titleFont=FONT, titleFontSize=77, titleFontWeight="normal",
    titleColor="black", titlePadding=42)

band_layer = alt.Chart(bands).mark_rect().encode(
    x=alt.X("a:Q", scale=xs, axis=XAX), x2="b:Q", color=alt.Color("c:N", scale=None))

dots = alt.Chart(points).mark_circle(size=156, color="black", opacity=1, clip=False).encode(
    x=alt.X("t:Q", scale=xs, axis=XAX), y=alt.Y("d:Q", scale=ys, axis=YAX))

xt = pd.DataFrame({"t": X_INNER})
yt = pd.DataFrame({"d": Y_INNER})
tick_top = alt.Chart(xt).mark_rule(color="black", strokeWidth=5).encode(
    x=alt.X("t:Q", scale=xs, axis=XAX), y=alt.value(0), y2=alt.value(32))
tick_bottom = alt.Chart(xt).mark_rule(color="black", strokeWidth=5).encode(
    x=alt.X("t:Q", scale=xs, axis=XAX), y=alt.value(H - 32), y2=alt.value(H))
tick_left = alt.Chart(yt).mark_rule(color="black", strokeWidth=5).encode(
    y=alt.Y("d:Q", scale=ys, axis=YAX), x=alt.value(0), x2=alt.value(36))
tick_right = alt.Chart(yt).mark_rule(color="black", strokeWidth=5).encode(
    y=alt.Y("d:Q", scale=ys, axis=YAX), x=alt.value(W - 36), x2=alt.value(W))

frame = alt.Chart(pd.DataFrame({"k": [0]})).mark_rect(
    fill="transparent", stroke="black", strokeWidth=5.5).encode(
    x=alt.value(0), x2=alt.value(W), y=alt.value(0), y2=alt.value(H))

lab = pd.DataFrame({"t": [0.099], "d": [128], "s": ["f"]})
ring = alt.Chart(lab).mark_point(filled=False, shape="circle", size=9025, stroke="black", strokeWidth=3.5, opacity=1).encode(
    x=alt.X("t:Q", scale=xs, axis=XAX), y=alt.Y("d:Q", scale=ys, axis=YAX))
letter = alt.Chart(lab).mark_text(font=FONT, fontSize=78, color="black", baseline="middle", align="center", dy=-1).encode(
    x=alt.X("t:Q", scale=xs, axis=XAX), y=alt.Y("d:Q", scale=ys, axis=YAX), text="s:N")

chart = alt.layer(band_layer, dots, ring, letter, tick_top, tick_bottom, tick_left, tick_right, frame).properties(
    width=W, height=H, padding={"left": 326, "top": 85, "right": 129, "bottom": 242},
    autosize=alt.AutoSizeParams(type="none"), background="white"
).configure_view(stroke=None)

chart.save("out.html", embed_options={"renderer": "svg", "actions": False})
